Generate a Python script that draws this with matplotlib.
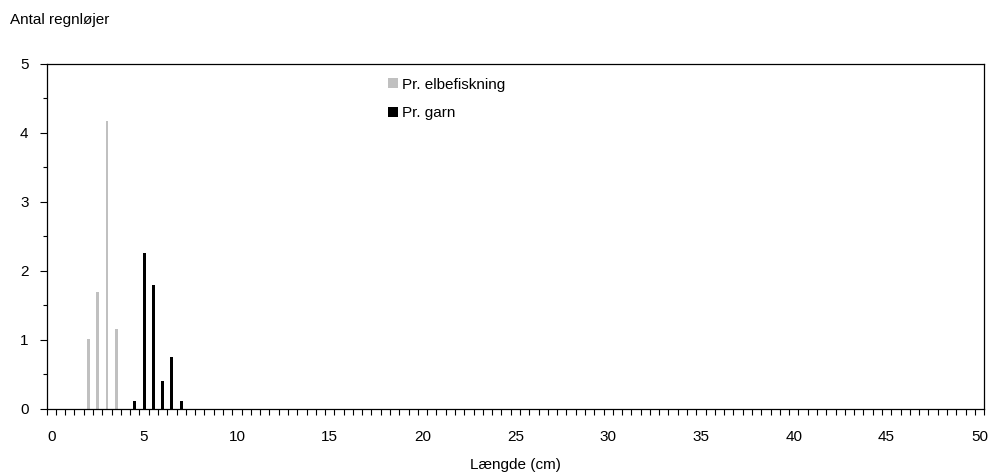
import matplotlib.pyplot as plt
import numpy as np

# --- data: mean number of fish per length class (cm) ---
LENGTH_ELBE = [2.0, 2.5, 3.0, 3.5]
COUNT_ELBE = [1.01, 1.69, 4.18, 1.16]

LENGTH_GARN = [4.5, 5.0, 5.5, 6.0, 6.5, 7.0]
COUNT_GARN = [0.12, 2.26, 1.80, 0.41, 0.76, 0.12]

X_TICKS = [0, 5, 10, 15, 20, 25, 30, 35, 40, 45, 50]
Y_TICKS = [0, 1, 2, 3, 4, 5]

plt.rcParams["font.family"] = ["Liberation Sans", "DejaVu Sans"]
plt.rcParams["font.size"] = 11

fig = plt.figure(figsize=(9.92, 4.72), dpi=100)
ax = fig.add_axes([0.047, 0.1335, 0.945, 0.731])

ax.bar(LENGTH_ELBE, COUNT_ELBE, width=0.15, color="#c0c0c0", label="Pr. elbefiskning")
ax.bar(LENGTH_GARN, COUNT_GARN, width=0.16, color="black", label="Pr. garn")

ax.set_xlim(-0.25, 50.25)
ax.set_ylim(0, 5)

# category-style x axis: labels at class centres, tick marks between classes
ax.set_xticks(X_TICKS)
ax.set_xticklabels([str(v) for v in X_TICKS])
ax.tick_params(axis="x", which="major", length=0, pad=15)
ax.set_xticks(np.arange(-0.25, 50.3, 0.5), minor=True)
ax.tick_params(axis="x", which="minor", length=4, width=0.8, direction="out")

ax.set_yticks(Y_TICKS)
ax.set_yticks(np.arange(0.5, 5, 1.0), minor=True)
ax.tick_params(axis="y", which="major", length=5, width=0.8, pad=8)
ax.tick_params(axis="y", which="minor", length=3, width=0.8)

for sp in ax.spines.values():
    sp.set_linewidth(0.9)
    sp.set_color("black")

ax.set_xlabel("Længde (cm)", labelpad=10)
fig.text(0.01, 0.957, "Antal regnløjer", ha="left", va="center")

ax.legend(loc="upper left", bbox_to_anchor=(0.35, 1.0), frameon=False,
          handlelength=0.6, handleheight=0.6, handletextpad=0.3, labelspacing=0.95)

fig.savefig("out.png", dpi=100)
